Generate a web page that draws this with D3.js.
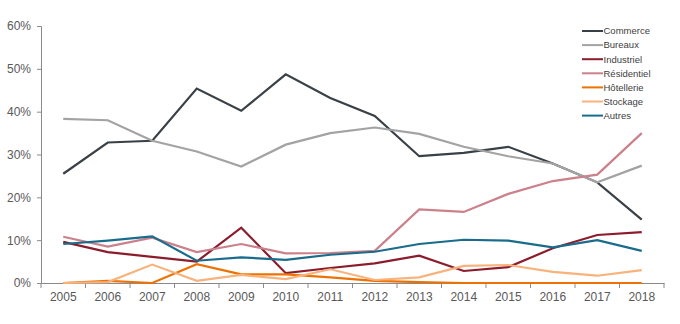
<!DOCTYPE html>
<html><head><meta charset="utf-8">
<script src="https://cdn.jsdelivr.net/npm/d3@7"></script>
<style>body{margin:0;background:#fff}svg{display:block;font-family:"Liberation Sans",Arial,sans-serif}</style>
</head><body><svg id="c" width="680" height="324"></svg>
<script>
const years = ["2005","2006","2007","2008","2009","2010","2011","2012","2013","2014","2015","2016","2017","2018"];
const yTicks = [0,10,20,30,40,50,60];
const seriesNames = ["Commerce","Bureaux","Industriel","Résidentiel","Hôtellerie","Stockage","Autres"];
const seriesColors = ["#394046","#a3a3a3","#8c1c2c","#cb818b","#ee7203","#f8b27c","#1a6c8c"];
const commerce    = [25.5,32.8,33.2,45.4,40.2,48.7,43.2,39.0,29.6,30.4,31.8,27.9,23.5,14.8];
const bureaux     = [38.3,38.0,33.2,30.7,27.2,32.3,35.0,36.3,34.8,31.8,29.6,27.9,23.5,27.4];
const industriel  = [9.6,7.2,6.1,5.0,12.9,2.3,3.5,4.6,6.4,2.8,3.7,8.1,11.2,11.9];
const residentiel = [10.8,8.5,10.6,7.2,9.1,6.9,7.0,7.5,17.2,16.6,20.8,23.8,25.3,35.0];
const hotellerie  = [0,0.5,0,4.4,2.0,2.0,1.3,0.5,0.2,0,0,0,0,0];
const stockage    = [0,0.2,4.3,0.5,1.9,0.9,3.2,0.7,1.3,4.0,4.2,2.6,1.7,3.0];
const autres      = [9.1,9.9,10.9,5.2,6.0,5.4,6.6,7.3,9.1,10.1,9.9,8.3,10.0,7.5];
const seriesValues = [commerce,bureaux,industriel,residentiel,hotellerie,stockage,autres];

(function(){
const svg = d3.select("#c");
const mLeft = 41, mRight = 664, mTop = 26, mBottom = 283;
const x = d3.scaleBand().domain(years).range([mLeft,mRight]);
const y = d3.scaleLinear().domain([0,60]).range([mBottom,mTop]);
const axisColor = "#8a8a8a", textColor = "#595959";

// Y axis
const ya = svg.append("g").attr("transform",`translate(${mLeft},0)`)
  .call(d3.axisLeft(y).tickValues(yTicks).tickSize(4).tickFormat(d=>d+"%"));
ya.select(".domain").attr("stroke",axisColor);
ya.selectAll(".tick line").attr("stroke",axisColor);
ya.selectAll(".tick text").attr("fill",textColor).attr("font-size",12).attr("x",-10)
  .attr("font-family","Liberation Sans, Arial, sans-serif");

// X axis
const xa = svg.append("g").attr("transform",`translate(0,${mBottom})`)
  .call(d3.axisBottom(x).tickSize(0).tickPadding(9));
xa.select(".domain").attr("stroke",axisColor);
xa.selectAll(".tick text").attr("fill",textColor).attr("font-size",12)
  .attr("font-family","Liberation Sans, Arial, sans-serif");
const bounds = years.map(d=>x(d)).concat([x(years[years.length-1])+x.bandwidth()]);
svg.append("g").selectAll("line").data(bounds).join("line")
  .attr("x1",d=>d).attr("x2",d=>d).attr("y1",mBottom).attr("y2",mBottom+5)
  .attr("stroke",axisColor);

// Lines
const line = d3.line().x((d,i)=>x(years[i])+x.bandwidth()/2).y(d=>y(d));
svg.append("g").selectAll("path").data(seriesValues).join("path")
  .attr("d",d=>line(d)).attr("fill","none")
  .attr("stroke",(d,i)=>seriesColors[i]).attr("stroke-width",2.2)
  .attr("stroke-linejoin","miter");

// Legend
const lg = svg.append("g").attr("transform","translate(582,31)");
const items = lg.selectAll("g").data(seriesNames).join("g")
  .attr("transform",(d,i)=>`translate(0,${i*14.1})`);
items.append("line").attr("x1",0).attr("x2",21).attr("y1",0).attr("y2",0)
  .attr("stroke",(d,i)=>seriesColors[i]).attr("stroke-width",2);
items.append("text").attr("x",21.5).attr("y",0).attr("dy","0.35em")
  .attr("font-size",9.5).attr("fill","#404040").text(d=>d);
})();
</script></body></html>
